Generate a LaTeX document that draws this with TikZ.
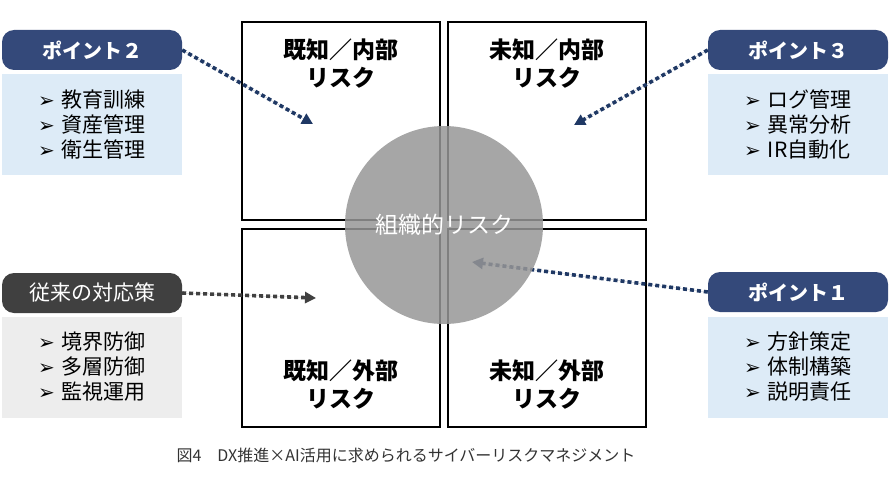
\documentclass[tikz,border=0pt]{standalone}
\usepackage{fontspec}
\setmainfont{Noto Sans CJK JP}
\newfontfamily\dejavu{DejaVu Sans}
\usepackage{pdfrender}
\usetikzlibrary{arrows.meta}
\definecolor{pillnavy}{HTML}{34497A}
\definecolor{arrnavy}{HTML}{1F3864}
\definecolor{lblue}{HTML}{DDEBF7}
\definecolor{dgrey}{HTML}{404040}
\definecolor{lgrey}{HTML}{EDEDED}
\definecolor{circgrey}{HTML}{969696}
\definecolor{captc}{HTML}{333333}
\newcommand\itm[1]{{\dejavu\fontsize{20}{25}\selectfont ➢}\hspace{7pt}#1}
\tikzset{
  quad/.style={draw=black, line width=1.6pt, minimum width=198pt, minimum height=198pt, inner sep=0pt},
  quadtxt/.style={font=\fontsize{23}{26}\selectfont\bfseries, align=center, inner sep=0pt},
  pill/.style={rounded corners=12pt, minimum width=180pt, minimum height=40pt, inner sep=0pt, text=white},
  listbox/.style={minimum width=180pt, minimum height=101pt, inner sep=0pt, align=left, font=\fontsize{21}{25}\selectfont},
  dotarrow/.style={line width=3.6pt, dash pattern=on 4pt off 3pt, -{Triangle[length=11pt,width=11pt]}},
}
\begin{document}
\begin{tikzpicture}[x=1pt,y=-1pt]
\useasboundingbox (0,0) rectangle (890,500);
% quadrant boxes
\node[quad] (qtl) at (341,121) {};
\node[quad] (qtr) at (547,121) {};
\node[quad] (qbl) at (341,328) {};
\node[quad] (qbr) at (547,328) {};
\node[quadtxt] (ttl) at (341,64) {既知／内部\\[2pt]リスク};
\node[quadtxt] (ttr) at (547,64) {未知／内部\\[2pt]リスク};
\node[quadtxt] (tbl) at (341,385) {既知／外部\\[2pt]リスク};
\node[quadtxt] (tbr) at (547,385) {未知／外部\\[2pt]リスク};
% left pills and lists
\node[pill, fill=pillnavy, font=\fontsize{20}{24}\selectfont\bfseries] (p2) at (92,50) {ポイント２};
\node[listbox, fill=lblue] (l2) at (92,124.5) {\itm{教育訓練}\\\itm{資産管理}\\\itm{衛生管理}};
\node[pill, fill=dgrey, font=\fontsize{21}{24}\selectfont] (p0) at (92,293) {従来の対応策};
\node[listbox, fill=lgrey] (l0) at (92,367) {\itm{境界防御}\\\itm{多層防御}\\\itm{監視運用}};
% right pills and lists
\node[pill, fill=pillnavy, font=\fontsize{20}{24}\selectfont\bfseries] (p3) at (798,50) {ポイント３};
\node[listbox, fill=lblue] (l3) at (798,124.5) {\itm{ログ管理}\\\itm{異常分析}\\\itm{IR自動化}};
\node[pill, fill=pillnavy, font=\fontsize{20}{24}\selectfont\bfseries] (p1) at (798,292) {ポイント１};
\node[listbox, fill=lblue] (l1) at (798,367) {\itm{方針策定}\\\itm{体制構築}\\\itm{説明責任}};
% arrow targets
\coordinate (t2) at (313,124);
\coordinate (t3) at (574,125);
\coordinate (t0) at (316,298);
\coordinate (t1) at (472,262);
\draw[dotarrow, draw=arrnavy, fill=arrnavy] (p2.east) -- (t2);
\draw[dotarrow, draw=arrnavy, fill=arrnavy] (p3.west) -- (t3);
\draw[dotarrow, draw=dgrey, fill=dgrey] (p0.east) -- (t0);
\draw[dotarrow, draw=arrnavy, fill=arrnavy] (p1.west) -- (t1);
% central circle
\node[circle, minimum size=198pt, inner sep=0pt, fill=circgrey, fill opacity=0.85, text opacity=1, text=white, font=\fontsize{23}{26}\selectfont] (org) at (444,225) {\textpdfrender{TextRenderingMode=FillStroke, LineWidth=0.6, StrokeColor=dgrey}{組織的リスク}};
% caption
\node[font=\fontsize{16}{20}\selectfont, text=captc] (cap) at (406,455) {図4　DX推進×AI活用に求められるサイバーリスクマネジメント};
\end{tikzpicture}
\end{document}
